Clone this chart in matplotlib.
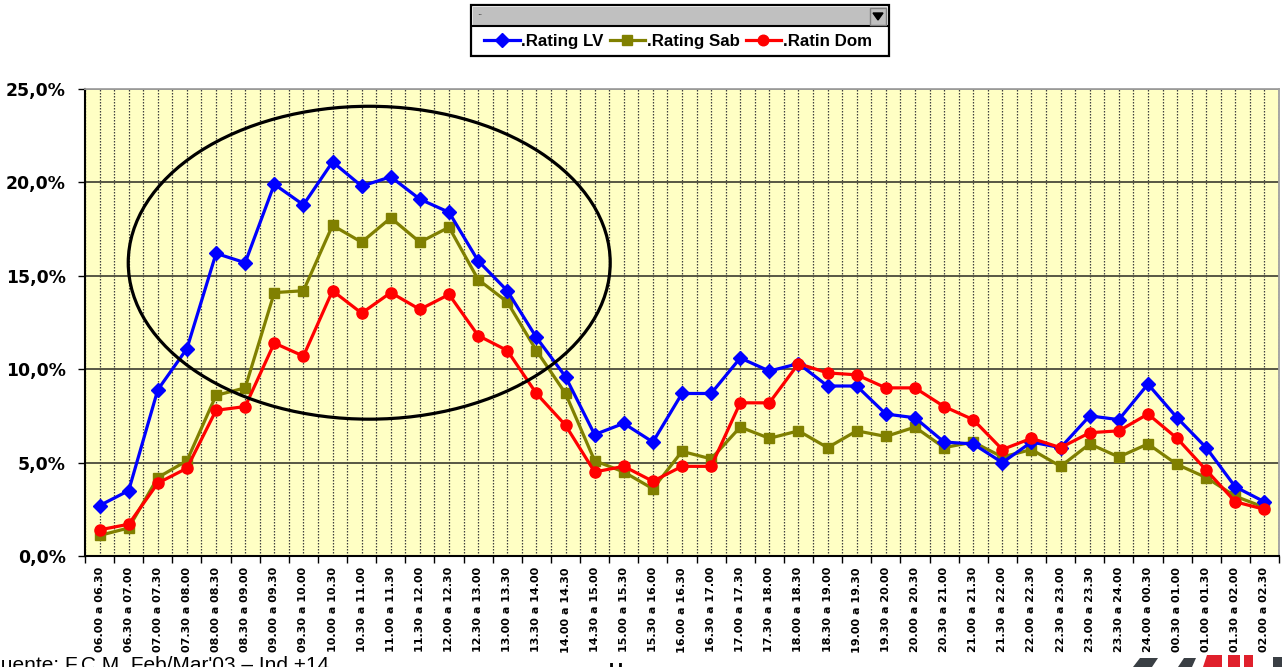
import matplotlib
matplotlib.use("Agg")
import matplotlib.pyplot as plt
from matplotlib.patches import Rectangle, Ellipse, Polygon
from matplotlib.ticker import FixedLocator, FuncFormatter

# ---------------- data ----------------
categories = [
    "06.00 a 06.30", "06.30 a 07.00", "07.00 a 07.30", "07.30 a 08.00",
    "08.00 a 08.30", "08.30 a 09.00", "09.00 a 09.30", "09.30 a 10.00",
    "10.00 a 10.30", "10.30 a 11.00", "11.00 a 11.30", "11.30 a 12.00",
    "12.00 a 12.30", "12.30 a 13.00", "13.00 a 13.30", "13.30 a 14.00",
    "14.00 a 14.30", "14.30 a 15.00", "15.00 a 15.30", "15.30 a 16.00",
    "16.00 a 16.30", "16.30 a 17.00", "17.00 a 17.30", "17.30 a 18.00",
    "18.00 a 18.30", "18.30 a 19.00", "19.00 a 19.30", "19.30 a 20.00",
    "20.00 a 20.30", "20.30 a 21.00", "21.00 a 21.30", "21.30 a 22.00",
    "22.00 a 22.30", "22.30 a 23.00", "23.00 a 23.30", "23.30 a 24.00",
    "24.00 a 00.30", "00.30 a 01.00", "01.00 a 01.30", "01.30 a 02.00",
    "02.00 a 02.30",
]
rating_lv = [2.7, 3.5, 8.9, 11.1, 16.2, 15.7, 19.9, 18.8, 21.1, 19.8,
             20.3, 19.1, 18.4, 15.8, 14.2, 11.7, 9.6, 6.5, 7.1, 6.1,
             8.7, 8.7, 10.6, 9.9, 10.3, 9.1, 9.1, 7.6, 7.4, 6.1,
             6.0, 5.0, 6.1, 5.8, 7.5, 7.3, 9.2, 7.4, 5.8, 3.7, 2.9]
rating_sab = [1.1, 1.5, 4.2, 5.1, 8.6, 9.0, 14.1, 14.2, 17.7, 16.8,
              18.1, 16.8, 17.6, 14.8, 13.6, 11.0, 8.7, 5.1, 4.5, 3.6,
              5.6, 5.2, 6.9, 6.3, 6.7, 5.8, 6.7, 6.4, 6.9, 5.8,
              6.1, 5.3, 5.7, 4.8, 6.0, 5.3, 6.0, 4.9, 4.2, 3.2, 2.6]
rating_dom = [1.4, 1.7, 3.9, 4.7, 7.8, 8.0, 11.4, 10.7, 14.2, 13.0,
              14.1, 13.2, 14.0, 11.8, 11.0, 8.7, 7.0, 4.5, 4.8, 4.0,
              4.8, 4.8, 8.2, 8.2, 10.3, 9.8, 9.7, 9.0, 9.0, 8.0,
              7.3, 5.7, 6.3, 5.8, 6.6, 6.7, 7.6, 6.3, 4.6, 2.9, 2.5]
series_names = [".Rating LV", ".Rating Sab", ".Ratin Dom"]
y_ticks = [0, 5, 10, 15, 20, 25]
footnote = "Fuente: F.C.M. Feb/Mar'03 \u2013 Ind.+14"

# highlight ellipse (category index / percent units)
ell_center = (9.26, 15.7)
ell_width = 16.55
ell_height = 16.75

# ---------------- figure ----------------
W, H = 1282, 667
fig = plt.figure(figsize=(W / 100, H / 100), dpi=100)
fig.patch.set_facecolor("white")

def fx(px):
    return px / W

def fy(py):
    return 1 - py / H

ax_l, ax_r, ax_t, ax_b = 85, 1279, 89, 556
ax = fig.add_axes([fx(ax_l), fy(ax_b), fx(ax_r - ax_l), (ax_b - ax_t) / H])
ax.set_facecolor("#FFFFC4")

x = list(range(len(categories)))
l1, = ax.plot(x, rating_lv, color="#0000FF", lw=2.3, marker="D", ms=7,
              mec="#0000FF", mfc="#0000FF", zorder=5)
l2, = ax.plot(x, rating_sab, color="#808000", lw=2.3, marker="s", ms=7,
              mec="#808000", mfc="#808000", zorder=4)
l3, = ax.plot(x, rating_dom, color="#FF0000", lw=2.3, marker="o", ms=8,
              mec="#FF0000", mfc="#FF0000", zorder=6)

ax.add_patch(Ellipse(ell_center, ell_width, ell_height, fill=False,
                     ec="black", lw=2.3, zorder=7))

ax.set_xlim(-0.5, len(categories) - 0.5)
ax.set_ylim(0, 25)

# x axis: labels at category centres, ticks at boundaries
ax.xaxis.set_major_locator(FixedLocator(x))
ax.set_xticklabels(categories, rotation=90, fontsize=8.0, fontweight="bold",
                   va="top", ha="center")
ax.xaxis.set_minor_locator(FixedLocator([i - 0.5 for i in range(len(categories) + 1)]))
ax.tick_params(axis="x", which="major", length=0, pad=8)
ax.tick_params(axis="x", which="minor", length=5, width=1, color="black")

ax.yaxis.set_major_locator(FixedLocator(y_ticks))
ax.yaxis.set_major_formatter(FuncFormatter(lambda v, p: f"{v:.1f}%".replace(".", ",")))
ax.tick_params(axis="y", which="major", length=5, width=1, pad=9,
               labelsize=12.4)
for t in ax.get_yticklabels():
    t.set_fontweight("bold")

# grids
ax.grid(axis="x", which="both", color="#404040", lw=0.9,
        linestyle=(0, (1.2, 1.2)), zorder=1)
ax.grid(axis="y", which="major", color="#4a4a3a", lw=1.3, linestyle="-", zorder=1)
ax.set_axisbelow(True)

for s in ["left", "bottom"]:
    ax.spines[s].set_color("black")
    ax.spines[s].set_linewidth(1.5)
ax.spines["top"].set_color("#A0A0A0")
ax.spines["top"].set_linewidth(1.3)
ax.spines["right"].set_color("#A0A0A0")
ax.spines["right"].set_linewidth(1.3)

# ---------------- legend widget ----------------
def rect(x0, y0, x1, y1, **kw):
    r = Rectangle((fx(x0), fy(y1)), fx(x1 - x0), (y1 - y0) / H,
                  transform=fig.transFigure, **kw)
    fig.add_artist(r)
    return r

rect(471, 5, 889, 56, facecolor="white", edgecolor="black", lw=1.6, zorder=1)
rect(473, 7, 887, 26, facecolor="#C0C0C0", edgecolor="none", zorder=2)
fig.add_artist(plt.Line2D([fx(473), fx(887)], [fy(26), fy(26)],
                          transform=fig.transFigure, color="black", lw=1.5, zorder=3))
# dropdown button
rect(870, 8, 886, 25, facecolor="#C0C0C0", edgecolor="#808080", lw=1.0, zorder=3)
fig.add_artist(Polygon([(fx(873), fy(13)), (fx(883), fy(13)), (fx(878), fy(20))],
                       closed=True, transform=fig.transFigure,
                       facecolor="black", edgecolor="black", zorder=4))
fig.text(fx(477), fy(16), "\u00b7\u00b7", fontsize=6, va="center", ha="left",
         color="black", zorder=4)

leg = fig.legend([l1, l2, l3], series_names, loc="center",
                 bbox_to_anchor=(fx(678), fy(41.5)), ncol=3, frameon=False,
                 prop={"family": "Liberation Sans", "weight": "bold", "size": 12.2},
                 handlelength=2.1, handletextpad=0.1, columnspacing=0.35,
                 borderpad=0.0, borderaxespad=0.0, markerscale=0.95)

# ---------------- footer ----------------
fig.text(fx(-12), fy(671), footnote, fontsize=15, family="Liberation Sans",
         ha="left", va="baseline", color="black")
fig.text(fx(616), fy(676), "U", fontsize=14, family="Liberation Sans",
         fontweight="bold", ha="center", va="baseline", color="black")

# partial logo at bottom right
logo_parts = [
    ([(1133, 667), (1140, 658), (1158, 658), (1152, 667)], "#3a3f44"),
    ([(1178, 667), (1184, 658), (1196, 658), (1192, 667)], "#3a3f44"),
    ([(1203, 667), (1207, 655), (1222, 655), (1222, 667)], "#e0202c"),
    ([(1228, 667), (1228, 655), (1240, 655), (1240, 667)], "#e0202c"),
    ([(1244, 667), (1244, 655), (1253, 655), (1253, 667)], "#e0202c"),
    ([(1273, 667), (1273, 657), (1282, 657), (1282, 667)], "#3a3f44"),
]
for pts, c in logo_parts:
    fig.add_artist(Polygon([(fx(a), fy(b)) for a, b in pts], closed=True,
                           transform=fig.transFigure, facecolor=c,
                           edgecolor="none"))

fig.savefig("out.png", dpi=100, facecolor="white")
